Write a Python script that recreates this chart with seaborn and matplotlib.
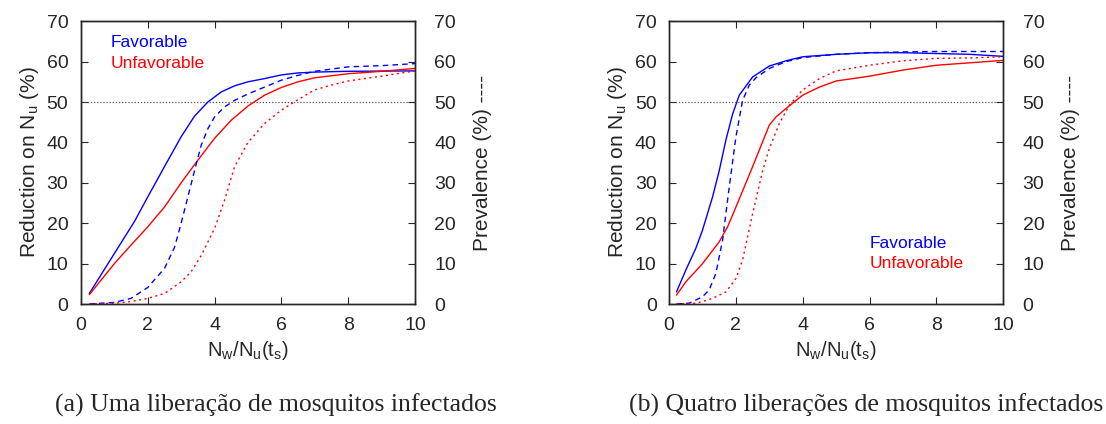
import numpy as np
import matplotlib
matplotlib.use('Agg')
import matplotlib.pyplot as plt
import seaborn as sns

sns.set_style('ticks')
plt.rcParams['font.family'] = ['Liberation Sans', 'DejaVu Sans']
plt.rcParams['mathtext.fontset'] = 'custom'
plt.rcParams['mathtext.rm'] = 'Liberation Sans'

# panel (a): one release
a_fav_x = [0.25, 1, 1.6, 2, 2.5, 3, 3.4, 3.8, 4.2, 4.6, 5, 5.5, 6, 6.5, 7, 8, 10]
a_fav_red = [2.6, 12.5, 20.4, 26.5, 34, 41.4, 46.5, 50, 52.5, 54, 55, 55.8, 56.7, 57.2, 57.4, 57.6, 57.7]
a_unf_x = [0.25, 1, 1.5, 2, 2.5, 3, 3.5, 4, 4.5, 5, 5.5, 6, 6.5, 7, 8, 9, 10]
a_unf_red = [2.3, 10, 14.6, 19.1, 24, 30, 35.6, 41, 45.5, 49, 51.7, 53.6, 55, 56, 57, 57.6, 58.3]
a_fav_px = [0.25, 1, 1.5, 2, 2.5, 2.8, 3, 3.2, 3.4, 3.6, 3.8, 4, 4.3, 4.6, 5, 5.5, 6, 6.5, 7, 8, 9, 10]
a_fav_prev = [0, 0.4, 1.4, 4.1, 8.8, 14, 20, 26.5, 33, 39.3, 43.4, 46.3, 48.8, 50.4, 52, 53.7, 55.4, 56.6, 57.6, 58.7, 59, 59.5]
a_unf_px = [0.25, 1, 1.5, 2, 2.5, 3, 3.3, 3.6, 4, 4.3, 4.6, 5, 5.5, 6, 6.5, 7, 7.5, 8, 9, 10]
a_unf_prev = [0, 0.2, 0.6, 1.4, 2.6, 5.5, 8, 12, 18.7, 25.7, 34, 40, 44.7, 48, 50.6, 53, 54.2, 55.2, 56.4, 57.7]

# panel (b): four releases
b_fav_x = [0.22, 0.5, 0.8, 1, 1.3, 1.5, 1.7, 1.9, 2.1, 2.5, 3, 3.5, 4, 5, 6, 7, 8, 9, 10]
b_fav_red = [3, 8.4, 13.8, 18.3, 26.5, 33, 40.6, 47, 51.7, 56.2, 58.9, 60.2, 61.2, 61.8, 62.2, 62.2, 62, 61.8, 61.3]
b_unf_x = [0.22, 0.5, 1, 1.5, 1.75, 2, 2.5, 3, 3.2, 3.5, 4, 4.5, 5, 6, 7, 8, 9, 10]
b_unf_red = [2.2, 5.5, 10, 15.4, 19.1, 24, 34, 44.3, 46.3, 48.4, 51.7, 53.7, 55.2, 56.4, 57.9, 59.1, 59.7, 60.3]
b_fav_px = [0.22, 0.6, 1, 1.2, 1.4, 1.6, 1.8, 2, 2.2, 2.4, 2.6, 3, 3.5, 4, 5, 6, 7, 8, 10]
b_fav_prev = [0, 0.2, 1.8, 3.5, 7.6, 15.8, 29, 41.4, 50.4, 54.2, 56, 58.3, 60, 61, 61.8, 62.2, 62.4, 62.5, 62.5]
b_unf_px = [0.22, 0.8, 1, 1.3, 1.7, 2, 2.2, 2.5, 2.8, 3, 3.3, 3.6, 4, 4.5, 5, 6, 7, 8, 9, 10]
b_unf_prev = [0, 0.2, 0.6, 1.4, 3, 6.3, 10.9, 22.4, 33, 38.5, 44.7, 49.2, 53, 55.8, 57.7, 59.1, 60.2, 60.8, 60.9, 61.2]

captions = ['(a) Uma liberação de mosquitos infectados',
            '(b) Quatro liberações de mosquitos infectados']

panels = [
    (a_fav_x, a_fav_red, a_unf_x, a_unf_red, a_fav_px, a_fav_prev, a_unf_px, a_unf_prev),
    (b_fav_x, b_fav_red, b_unf_x, b_unf_red, b_fav_px, b_fav_prev, b_unf_px, b_unf_prev),
]
lefts = [0.0732, 0.605]
legend_pos = [(0.09, 0.95), (0.6, 0.24)]

fig = plt.figure(figsize=(11.06, 4.24), dpi=100)
for i, p in enumerate(panels):
    ax = fig.add_axes([lefts[i], 0.283, 0.302, 0.667])
    ax2 = ax.twinx()
    fx, fy, ux, uy, fpx, fpy, upx, upy = p
    ax.axhline(50, color='#555555', lw=0.9, ls=(0, (1, 1.5)))
    sns.lineplot(x=fx, y=fy, ax=ax, color='blue', lw=1.0, sort=False)
    sns.lineplot(x=ux, y=uy, ax=ax, color='red', lw=1.0, sort=False)
    sns.lineplot(x=fpx, y=fpy, ax=ax2, color='blue', lw=1.0, sort=False, linestyle=(0, (4, 3)))
    sns.lineplot(x=upx, y=upy, ax=ax2, color='red', lw=1.0, sort=False, linestyle=(0, (1.5, 2.5)))
    for a in (ax, ax2):
        a.set_xlim(0, 10)
        a.set_ylim(0, 70)
        a.set_yticks(range(0, 71, 10))
        a.tick_params(direction='in', labelsize=14, length=5, width=0.8)
        for s in a.spines.values():
            s.set_visible(True)
            s.set_linewidth(1.0)
    ax.set_xticks(range(0, 11, 2))
    ax.tick_params(axis='y', pad=9)
    ax.tick_params(axis='x', pad=9)
    ax.tick_params(top=True, right=False)
    ax2.tick_params(right=True, left=False, pad=14)
    ax.set_xlabel(r'N$_\mathregular{w}$/N$_\mathregular{u}$(t$_\mathregular{s}$)', fontsize=14.5, labelpad=4)
    ax.set_ylabel(r'Reduction on N$_\mathregular{u}$ (%)', fontsize=15, labelpad=4)
    ax2.set_ylabel('Prevalence (%) ----', fontsize=15, labelpad=12)
    lx, ly = legend_pos[i]
    ax.text(lx, ly, 'Favorable', color='blue', fontsize=12.5, transform=ax.transAxes, va='top')
    ax.text(lx, ly - 0.072, 'Unfavorable', color='red', fontsize=12.5, transform=ax.transAxes, va='top')

cap_font = ['Liberation Serif', 'DejaVu Serif']
fig.text(0.249, 0.043, captions[0], fontsize=18.5, family=cap_font, ha='center', va='center')
fig.text(0.783, 0.043, captions[1], fontsize=18.5, family=cap_font, ha='center', va='center')

plt.savefig('out.png', dpi=100)
